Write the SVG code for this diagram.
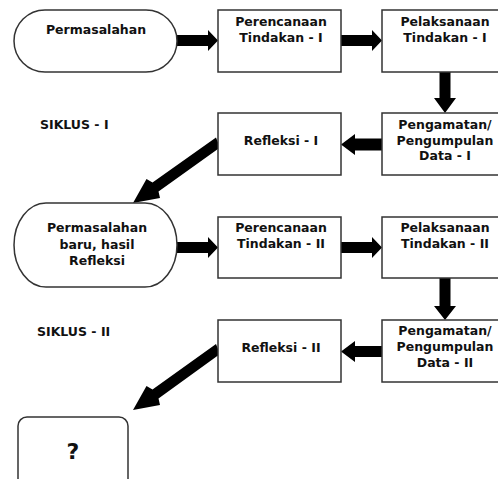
<svg xmlns="http://www.w3.org/2000/svg" width="498" height="479" viewBox="0 0 498 479">
<style>
.n{fill:#fff;stroke:#333;stroke-width:1.5}
.t{font-family:"DejaVu Sans",Verdana,sans-serif;font-weight:bold;font-size:12.5px;fill:#111;text-anchor:middle}
.l{font-family:"DejaVu Sans",Verdana,sans-serif;font-weight:bold;font-size:12.5px;fill:#111}
.a{fill:#000}
</style>
<rect width="498" height="479" fill="#fff"/>
<g id="connectors">
<polygon class="a" points="177,35 208,35 208,30 218,40.5 208,51 208,46 177,46"/>
<polygon class="a" points="341,35 372,35 372,30 382,40.5 372,51 372,46 341,46"/>
<polygon class="a" points="439.5,72 450.5,72 450.5,98 456,98 445,113 434,98 439.5,98"/>
<polygon class="a" points="382,138.5 355,138.5 355,134 341,144.5 355,155 355,150.5 382,150.5"/>
<polygon class="a" points="216,137.5 220,147.5 158.5,191.5 160,198 133,203 146.5,179 152.5,182.5"/>
<polygon class="a" points="177,242 208,242 208,237 218,247.5 208,258 208,253 177,253"/>
<polygon class="a" points="341,242 372,242 372,237 382,247.5 372,258 372,253 341,253"/>
<polygon class="a" points="439.5,278 450.5,278 450.5,306 456,306 445,320 434,306 439.5,306"/>
<polygon class="a" points="382,346 355,346 355,341 341,351.5 355,362 355,357 382,357"/>
<polygon class="a" points="216,344 220,354 158.5,398.5 160,405 133,410 146.5,386 152.5,389.5"/>
</g>
<g id="permasalahan">
<rect class="n" x="14" y="10" width="163" height="62" rx="31" ry="31"/>
<text class="t" x="96" y="34">Permasalahan</text>
</g>
<g id="perencanaan-1">
<rect class="n" x="218" y="10" width="123" height="62"/>
<text class="t" x="281" y="26">Perencanaan</text>
<text class="t" x="281" y="42">Tindakan - I</text>
</g>
<g id="pelaksanaan-1">
<rect class="n" x="382" y="10" width="126" height="62"/>
<text class="t" x="445" y="26">Pelaksanaan</text>
<text class="t" x="445" y="42">Tindakan - I</text>
</g>
<g id="pengamatan-1">
<rect class="n" x="382" y="113" width="126" height="62"/>
<text class="t" x="445" y="129">Pengamatan/</text>
<text class="t" x="445" y="144.5">Pengumpulan</text>
<text class="t" x="445" y="160">Data - I</text>
</g>
<g id="refleksi-1">
<rect class="n" x="218" y="113" width="123" height="62"/>
<text class="t" x="281" y="145">Refleksi - I</text>
</g>
<g id="siklus-1">
<text class="l" x="40" y="129">SIKLUS - I</text>
</g>
<g id="permasalahan-baru">
<rect class="n" x="14" y="203" width="163" height="84" rx="32" ry="42"/>
<text class="t" x="97" y="232">Permasalahan</text>
<text class="t" x="97" y="249">baru, hasil</text>
<text class="t" x="97" y="265">Refleksi</text>
</g>
<g id="perencanaan-2">
<rect class="n" x="218" y="217" width="123" height="61"/>
<text class="t" x="281" y="232">Perencanaan</text>
<text class="t" x="281" y="248">Tindakan - II</text>
</g>
<g id="pelaksanaan-2">
<rect class="n" x="382" y="217" width="126" height="61"/>
<text class="t" x="445" y="232">Pelaksanaan</text>
<text class="t" x="445" y="248">Tindakan - II</text>
</g>
<g id="pengamatan-2">
<rect class="n" x="382" y="320" width="126" height="62"/>
<text class="t" x="445" y="335">Pengamatan/</text>
<text class="t" x="445" y="351">Pengumpulan</text>
<text class="t" x="445" y="367">Data - II</text>
</g>
<g id="refleksi-2">
<rect class="n" x="218" y="320" width="123" height="62"/>
<text class="t" x="281" y="352">Refleksi - II</text>
</g>
<g id="siklus-2">
<text class="l" x="37" y="336">SIKLUS - II</text>
</g>
<g id="hasil">
<rect class="n" x="18" y="417" width="110" height="80" rx="9" ry="9"/>
<text class="t" x="73" y="459" style="font-size:22px">?</text>
</g>
</svg>
